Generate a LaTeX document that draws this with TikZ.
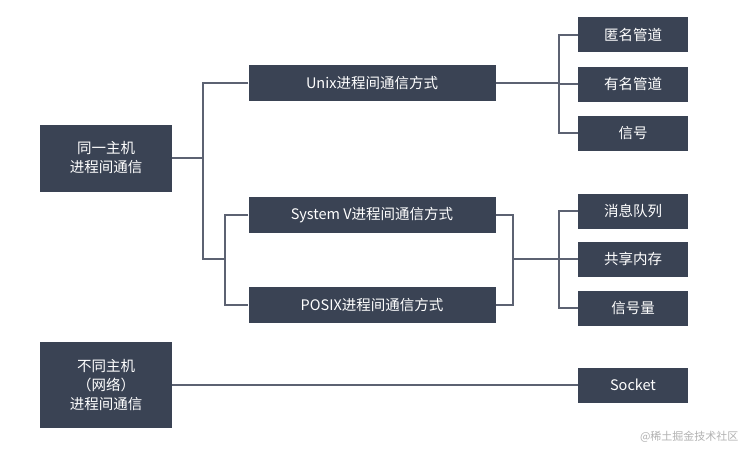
\documentclass[tikz,border=0pt]{standalone}
\usepackage{fontspec}
\setmainfont{Noto Sans CJK SC}
\begin{document}
\begin{tikzpicture}[x=1pt,y=-1pt,
  box/.style={fill=bx,text=white,font=\fontsize{14.5}{19}\selectfont,inner sep=0pt,align=center},
  ln/.style={draw=ln,line width=2.2pt}]
\definecolor{bx}{HTML}{3A4354}
\definecolor{ln}{HTML}{5C6272}
\useasboundingbox (0,0) rectangle (751,452);
\fill[white] (0,0) rectangle (751,452);
\node[box,minimum width=132pt,minimum height=67pt] (a) at (106,158) {同一主机\\进程间通信};
\node[box,minimum width=132pt,minimum height=86pt] (b) at (106,385) {不同主机\\（网络）\\进程间通信};
\node[box,minimum width=247pt,minimum height=36pt] (u) at (372,83) {Unix进程间通信方式};
\node[box,minimum width=247pt,minimum height=36pt] (s) at (372,215) {System V进程间通信方式};
\node[box,minimum width=247pt,minimum height=36pt] (p) at (372,305) {POSIX进程间通信方式};
\foreach \n/\y/\t in {r1/35/匿名管道,r2/84/有名管道,r3/133/信号,r4/211/消息队列,r5/259/共享内存,r6/308/信号量,r7/385/Socket}
  \node[box,minimum width=110pt,minimum height=35pt] (\n) at (633,\y) {\t};
\coordinate (j1) at (203,158);
\coordinate (j2) at (225,259);
\coordinate (j3) at (513,259);
\coordinate (j4) at (559,83);
\coordinate (j5) at (559,259);
\draw[ln] (a.east) -- (j1);
\draw[ln] (u.west) -| (j1) |- (j2);
\draw[ln] (s.west) -| (j2) |- (p.west);
\draw[ln] (s.east) -| (j3) |- (p.east);
\draw[ln] (j3) -- (j5);
\draw[ln] (u.east) -- (j4);
\draw[ln] (r1.west) -| (j4) |- (r3.west);
\draw[ln] (j4) |- (r2.west);
\draw[ln] (r4.west) -| (j5) |- (r6.west);
\draw[ln] (j5) -- (r5.west);
\draw[ln] (b.east) -- (r7.west);
\node[text=gray!60,font=\fontsize{11}{13}\selectfont,anchor=east] (w) at (742,437) {@稀土掘金技术社区};
\end{tikzpicture}
\end{document}
